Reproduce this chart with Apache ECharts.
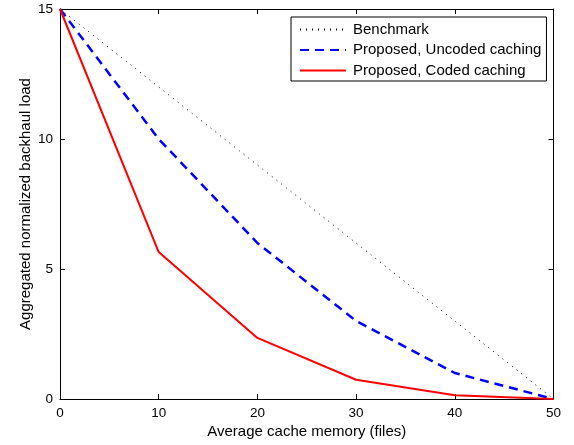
<!DOCTYPE html>
<html><head><meta charset="utf-8">
<script src="https://cdn.jsdelivr.net/npm/echarts@6/dist/echarts.min.js"></script>
<style>html,body{margin:0;padding:0;background:#fff}#c{width:574px;height:445px}</style>
</head><body><div id="c"></div>
<script>
const memory = [0, 10, 20, 30, 40, 50];
const benchmark = [15, 12, 9, 6, 3, 0];
const uncoded = [15, 10, 6, 3, 1, 0];
const coded = [15, 5.65, 2.35, 0.74, 0.14, 0];
const xTicks = [0, 10, 20, 30, 40, 50];
const yTicks = [0, 5, 10, 15];
const names = ['Benchmark', 'Proposed, Uncoded caching', 'Proposed, Coded caching'];

const pair = (ys) => memory.map((x, i) => [x, ys[i]]);
const font = 'Liberation Sans, Arial, Helvetica, sans-serif';
const chart = echarts.init(document.getElementById('c'), null, {renderer: 'canvas'});
const common = () => ({
  axisLine: {show: true, onZero: false, lineStyle: {color: '#000', width: 1}},
  axisTick: {show: true, inside: true, length: 5, lineStyle: {color: '#000'}},
  splitLine: {show: false},
});
chart.setOption({
  animation: false,
  backgroundColor: '#fff',
  grid: {left: 60, right: 20.5, top: 9, bottom: 46, show: false},
  legend: {
    show: true, orient: 'vertical', left: 291, top: 17,
    width: 250,
    backgroundColor: '#fff', borderColor: '#000', borderWidth: 1,
    padding: [5, 5, 3, 8], itemGap: 5.5, itemWidth: 46, itemHeight: 14,
    itemStyle: {color: 'rgba(0,0,0,0)', borderWidth: 0, opacity: 0},
    textStyle: {fontFamily: font, fontSize: 15, lineHeight: 14, color: '#000', padding: [0, 0, 0, 2]},
    data: names
  },
  xAxis: [
    Object.assign({type: 'value', min: 0, max: 50, interval: 10, position: 'bottom',
      name: 'Average cache memory (files)', nameLocation: 'middle', nameGap: 25,
      nameMoveOverlap: false,
      nameTextStyle: {fontFamily: font, fontSize: 15, color: '#000'},
      axisLabel: {fontFamily: font, fontSize: 13.5, color: '#000', margin: 7,
        formatter: v => xTicks.includes(v) ? String(v) : ''}}, common()),
    Object.assign({type: 'value', min: 0, max: 50, interval: 10, position: 'top',
      axisLabel: {show: false}}, common())
  ],
  yAxis: [
    Object.assign({type: 'value', min: 0, max: 15, interval: 5, position: 'left',
      name: 'Aggregated normalized backhaul load', nameLocation: 'middle', nameGap: 26.5,
      nameMoveOverlap: false,
      nameTextStyle: {fontFamily: font, fontSize: 15, color: '#000'},
      axisLabel: {fontFamily: font, fontSize: 13.5, color: '#000', margin: 7,
        formatter: v => yTicks.includes(v) ? String(v) : ''}}, common()),
    Object.assign({type: 'value', min: 0, max: 15, interval: 5, position: 'right',
      axisLabel: {show: false}}, common())
  ],
  series: [
    {name: names[0], type: 'line', data: pair(benchmark), showSymbol: false, symbol: 'none',
      lineStyle: {color: '#000', width: 1, type: [1, 5]}, itemStyle: {color: '#000'}},
    {name: names[1], type: 'line', data: pair(uncoded), showSymbol: false, symbol: 'none',
      lineStyle: {color: '#0000ff', width: 2.5, type: [9, 6]}, itemStyle: {color: '#0000ff'}},
    {name: names[2], type: 'line', data: pair(coded), showSymbol: false, symbol: 'none',
      lineStyle: {color: '#ff0000', width: 2}, itemStyle: {color: '#ff0000'}}
  ]
});
</script></body></html>
